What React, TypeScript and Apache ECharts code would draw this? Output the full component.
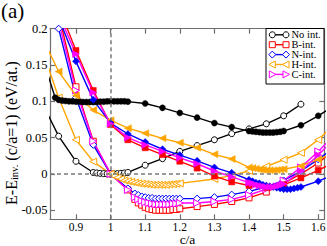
import React, { useEffect, useRef } from "react";
import * as echarts from "echarts";

// ---- tick values ----
const xTicks = [0.9, 1.0, 1.1, 1.2, 1.3, 1.4, 1.5, 1.6];
const yTicks = [-0.05, 0, 0.05, 0.1, 0.15, 0.2];
const legendNames = ["No int.", "B-int.", "N-int.", "H-int.", "C-int."];

// ---- data: [c/a, E - E_inv] ----
const noIntFilled: [number, number][] = [
  [0.80, 0.165], [0.84, 0.105], [0.85, 0.102], [0.86, 0.101], [0.87, 0.1005], [0.88, 0.1], [0.89, 0.1],
  [0.90, 0.0995], [0.91, 0.0995], [0.92, 0.099], [0.93, 0.099], [0.94, 0.099], [0.95, 0.099], [0.96, 0.099],
  [0.97, 0.0995], [0.98, 0.0995], [0.99, 0.1], [1.00, 0.1], [1.01, 0.1], [1.02, 0.1], [1.03, 0.1], [1.04, 0.1],
  [1.05, 0.0995], [1.10, 0.097], [1.15, 0.091], [1.20, 0.084], [1.25, 0.0775], [1.30, 0.07], [1.35, 0.0645],
  [1.40, 0.059], [1.41, 0.0585], [1.42, 0.058], [1.43, 0.0575], [1.44, 0.057], [1.45, 0.057], [1.46, 0.057],
  [1.47, 0.057], [1.48, 0.0575], [1.49, 0.058], [1.50, 0.059], [1.55, 0.067], [1.60, 0.080], [1.65, 0.095],
];
const noIntOpen: [number, number][] = [
  [0.80, 0.10], [0.85, 0.052], [0.90, 0.0174], [0.95, 0.002], [0.96, 0.0013], [0.97, 0.0008], [0.98, 0.0004],
  [0.99, 0.0001], [1.00, 0], [1.01, 0.0001], [1.02, 0.0004], [1.03, 0.0008], [1.04, 0.0013], [1.05, 0.002],
  [1.10, 0.012], [1.15, 0.021], [1.20, 0.031], [1.25, 0.039], [1.30, 0.047], [1.35, 0.0555], [1.40, 0.062],
  [1.45, 0.069], [1.50, 0.080], [1.55, 0.096],
];
const bFilled: [number, number][] = [
  [0.85, 0.23], [0.90, 0.17], [0.95, 0.115], [1.00, 0.068], [1.05, 0.047], [1.10, 0.036], [1.15, 0.0266],
  [1.20, 0.0174], [1.25, 0.008], [1.30, -0.003], [1.35, -0.011], [1.40, -0.016], [1.45, -0.019], [1.50, -0.015],
  [1.55, -0.0055], [1.60, 0.005], [1.65, 0.017],
];
const bOpen: [number, number][] = [
  [0.85, 0.22], [0.90, 0.12], [0.95, 0.045], [1.00, 0], [1.05, -0.022], [1.07, -0.035], [1.08, -0.040],
  [1.09, -0.043], [1.10, -0.046], [1.11, -0.048], [1.12, -0.049], [1.13, -0.050], [1.14, -0.050], [1.15, -0.050],
  [1.16, -0.050], [1.17, -0.050], [1.18, -0.049], [1.19, -0.049], [1.20, -0.048], [1.25, -0.045], [1.30, -0.042],
  [1.35, -0.038], [1.40, -0.033], [1.45, -0.025], [1.50, -0.013], [1.55, 0.0], [1.60, 0.015], [1.65, 0.035],
];
const nFilled: [number, number][] = [
  [0.85, 0.215], [0.90, 0.155], [0.95, 0.102], [1.00, 0.07], [1.05, 0.055], [1.10, 0.044], [1.15, 0.034],
  [1.20, 0.026], [1.25, 0.018], [1.30, 0.009], [1.35, 0.0015], [1.40, -0.008], [1.41, -0.010], [1.42, -0.012],
  [1.43, -0.013], [1.44, -0.015], [1.45, -0.016], [1.46, -0.017], [1.47, -0.018], [1.48, -0.019], [1.49, -0.020],
  [1.50, -0.021], [1.51, -0.021], [1.52, -0.021], [1.53, -0.020], [1.54, -0.019], [1.55, -0.018], [1.60, -0.010],
  [1.65, 0.0],
];
const nOpen: [number, number][] = [
  [0.85, 0.2], [0.90, 0.105], [0.95, 0.04], [1.00, 0], [1.05, -0.02], [1.07, -0.027], [1.08, -0.029],
  [1.09, -0.031], [1.10, -0.032], [1.11, -0.033], [1.12, -0.033], [1.13, -0.034], [1.14, -0.034], [1.15, -0.034],
  [1.16, -0.034], [1.17, -0.034], [1.18, -0.034], [1.19, -0.034], [1.20, -0.034], [1.25, -0.034], [1.30, -0.032],
  [1.35, -0.0285], [1.40, -0.024], [1.45, -0.018], [1.50, -0.009], [1.55, 0.004], [1.60, 0.02], [1.65, 0.038],
];
const hFilled: [number, number][] = [
  [0.80, 0.19], [0.85, 0.141], [0.90, 0.108], [0.95, 0.088], [1.00, 0.074], [1.05, 0.063], [1.10, 0.056],
  [1.15, 0.049], [1.20, 0.043], [1.25, 0.036], [1.30, 0.027], [1.35, 0.0205], [1.40, 0.009], [1.41, 0.008],
  [1.42, 0.007], [1.43, 0.006], [1.44, 0.0055], [1.45, 0.005], [1.46, 0.005], [1.47, 0.005], [1.48, 0.0055],
  [1.49, 0.006], [1.50, 0.0065], [1.55, 0.011], [1.60, 0.02], [1.65, 0.03],
];
const hOpen: [number, number][] = [
  [0.80, 0.175], [0.85, 0.105], [0.90, 0.047], [0.95, 0.017], [1.00, 0], [1.01, -0.003], [1.02, -0.005],
  [1.03, -0.007], [1.04, -0.009], [1.05, -0.010], [1.06, -0.011], [1.07, -0.012], [1.08, -0.013], [1.09, -0.0135],
  [1.10, -0.014], [1.11, -0.0145], [1.12, -0.015], [1.13, -0.015], [1.14, -0.015], [1.15, -0.015], [1.16, -0.015],
  [1.17, -0.0145], [1.18, -0.014], [1.19, -0.0135], [1.20, -0.013], [1.30, -0.007], [1.35, -0.002], [1.40, 0.004],
  [1.45, 0.0105], [1.50, 0.0195], [1.55, 0.029], [1.60, 0.047], [1.65, 0.07],
];
const cFilled: [number, number][] = [
  [0.85, 0.22], [0.90, 0.165], [0.95, 0.112], [1.00, 0.069], [1.05, 0.050], [1.10, 0.040], [1.15, 0.031],
  [1.20, 0.022], [1.25, 0.014], [1.30, 0.004], [1.35, -0.004], [1.40, -0.012], [1.41, -0.013], [1.42, -0.015],
  [1.43, -0.016], [1.44, -0.017], [1.45, -0.018], [1.46, -0.018], [1.47, -0.018], [1.48, -0.017], [1.49, -0.016],
  [1.50, -0.014], [1.55, 0.004], [1.60, 0.026], [1.65, 0.05],
];
const cOpen: [number, number][] = [
  [0.85, 0.21], [0.90, 0.115], [0.95, 0.045], [1.00, 0], [1.05, -0.022], [1.07, -0.032], [1.08, -0.035],
  [1.09, -0.037], [1.10, -0.039], [1.11, -0.040], [1.12, -0.041], [1.13, -0.042], [1.14, -0.042], [1.15, -0.042],
  [1.16, -0.042], [1.17, -0.042], [1.18, -0.041], [1.19, -0.041], [1.20, -0.040], [1.25, -0.040], [1.30, -0.038],
  [1.35, -0.035], [1.40, -0.029], [1.45, -0.021], [1.50, -0.009], [1.55, 0.009], [1.60, 0.031], [1.65, 0.055],
];

const FONT = "Liberation Serif";
const BLACK = "#000000";
const RED = "#ff0000";
const BLUE = "#0000ff";
const ORANGE = "#ffa500";
const MAGENTA = "#ff00ff";
const FRAME = "#6e6e6e";

type Kind = { color: string; symbol: string; rotate: number; size: number };
const kinds: Kind[] = [
  { color: BLACK, symbol: "circle", rotate: 0, size: 6 },
  { color: RED, symbol: "rect", rotate: 0, size: 6 },
  { color: BLUE, symbol: "diamond", rotate: 0, size: 7 },
  { color: ORANGE, symbol: "triangle", rotate: 90, size: 7 },
  { color: MAGENTA, symbol: "triangle", rotate: -90, size: 7 },
];

function makeSeries(name: string, data: [number, number][], k: Kind, filled: boolean, extra: any = {}) {
  return {
    name,
    type: "line",
    data,
    clip: true,
    symbol: k.symbol,
    symbolSize: k.size,
    symbolRotate: k.rotate,
    showAllSymbol: true,
    lineStyle: { color: k.color, width: 1.4 },
    itemStyle: filled
      ? { color: k.color, borderColor: k.color, borderWidth: 0.5 }
      : { color: "#ffffff", borderColor: k.color, borderWidth: 1 },
    emphasis: { disabled: true },
    z: filled ? 3 : 2,
    ...extra,
  };
}

function legendGraphics() {
  const els: any[] = [];
  const x0 = 266, y0 = 28.5, w = 58, h = 55.5;
  els.push({ type: "rect", shape: { x: x0, y: y0, width: w, height: h }, style: { fill: "#fff", stroke: "#000", lineWidth: 1 }, z: 100 });
  legendNames.forEach((nm, i) => {
    const k = kinds[i];
    const cy = 34.8 + i * 9.9;
    const xa = 272.3, xb = 286;
    els.push({ type: "line", shape: { x1: xa, y1: cy, x2: xb, y2: cy }, style: { stroke: k.color, lineWidth: 1.4 }, z: 101 });
    [xa, xb].forEach((cx) => {
      const st = { fill: "#fff", stroke: k.color, lineWidth: 1 };
      const r = 3;
      if (i === 0) els.push({ type: "circle", shape: { cx, cy, r }, style: st, z: 102 });
      else if (i === 1) els.push({ type: "rect", shape: { x: cx - r, y: cy - r, width: 2 * r, height: 2 * r }, style: st, z: 102 });
      else if (i === 2) els.push({ type: "polygon", shape: { points: [[cx, cy - 3.5], [cx + 3.5, cy], [cx, cy + 3.5], [cx - 3.5, cy]] }, style: st, z: 102 });
      else if (i === 3) els.push({ type: "polygon", shape: { points: [[cx - 3.5, cy], [cx + 3, cy - 3.5], [cx + 3, cy + 3.5]] }, style: st, z: 102 });
      else els.push({ type: "polygon", shape: { points: [[cx + 3.5, cy], [cx - 3, cy - 3.5], [cx - 3, cy + 3.5]] }, style: st, z: 102 });
    });
    els.push({
      type: "text", x: 291.5, y: cy,
      style: { text: nm, fill: "#000", fontFamily: FONT, fontSize: 10.5, align: "left", verticalAlign: "middle" },
      z: 102,
    });
  });
  // y-axis title (rotated, with subscript)
  els.push({
    type: "text",
    x: 11,
    y: 133,
    rotation: Math.PI / 2,
    style: {
      text: "E-E{sub|inv.} (c/a=1) (eV/at.)",
      fill: "#000",
      fontFamily: FONT,
      fontSize: 16,
      lineHeight: 18,
      align: "center",
      verticalAlign: "middle",
      rich: { sub: { fontFamily: FONT, fontSize: 10.5, lineHeight: 11, verticalAlign: "bottom", fill: "#000" } },
    },
    z: 50,
  });
  // x-axis title
  els.push({
    type: "text",
    x: 187.5,
    y: 239.2,
    style: { text: "c/a", fill: "#000", fontFamily: FONT, fontSize: 13.5, lineHeight: 13.5, align: "center", verticalAlign: "middle" },
    z: 50,
  });
  return els;
}

export default function App() {
  const ref = useRef<HTMLDivElement>(null);
  useEffect(() => {
    document.body.style.margin = "0";
    if (!ref.current) return;
    const chart = echarts.init(ref.current, undefined, { renderer: "svg" });
    const fmt = (v: number) => String(Number(Number(v).toFixed(3)));
    const xBase = {
      type: "value",
      min: 0.825,
      max: 1.6175,
      axisLine: { show: true, onZero: false, lineStyle: { color: FRAME, width: 1.2 } },
      axisTick: { show: true, inside: true, length: 5, customValues: xTicks, lineStyle: { color: FRAME, width: 1.2 } },
      splitLine: { show: false },
    };
    const yBase = {
      type: "value",
      min: -0.0625,
      max: 0.2,
      axisLine: { show: true, onZero: false, lineStyle: { color: FRAME, width: 1.2 } },
      axisTick: { show: true, inside: true, length: 5, customValues: yTicks, lineStyle: { color: FRAME, width: 1.2 } },
      splitLine: { show: false },
    };
    const option: any = {
      animation: false,
      backgroundColor: "#ffffff",
      textStyle: { fontFamily: FONT },
      title: {
        text: "(a)",
        left: 1,
        top: 0,
        padding: 0,
        textStyle: { fontFamily: FONT, fontSize: 21, fontWeight: "normal", color: "#000" },
      },
      grid: { left: 50, right: 2.7, top: 28.7, bottom: 26.7, containLabel: false, outerBoundsMode: "none" },
      xAxis: [
        {
          ...xBase,
          position: "bottom",
          axisLabel: { show: true, customValues: xTicks, margin: 1.5, formatter: fmt, fontFamily: FONT, fontSize: 11.5, color: "#000" },
        },
        { ...xBase, position: "top", axisLabel: { show: false } },
      ],
      yAxis: [
        {
          ...yBase,
          position: "left",
          axisLabel: { show: true, customValues: yTicks, margin: 2.5, formatter: fmt, fontFamily: FONT, fontSize: 12.5, color: "#000" },
        },
        { ...yBase, position: "right", axisLabel: { show: false } },
      ],
      series: [
        makeSeries("No int. (open)", noIntOpen, kinds[0], false, {
          markLine: {
            silent: true,
            symbol: ["none", "none"],
            label: { show: false },
            lineStyle: { color: "#7a7a7a", type: [4, 3], width: 1.5 },
            data: [{ xAxis: 1 }, { yAxis: 0 }],
          },
        }),
        makeSeries("No int.", noIntFilled, kinds[0], true),
        makeSeries("B-int. (open)", bOpen, kinds[1], false),
        makeSeries("N-int. (open)", nOpen, kinds[2], false),
        makeSeries("C-int. (open)", cOpen, kinds[4], false),
        makeSeries("H-int. (open)", hOpen, kinds[3], false),
        makeSeries("H-int.", hFilled, kinds[3], true),
        makeSeries("B-int.", bFilled, kinds[1], true),
        makeSeries("N-int.", nFilled, kinds[2], true),
        makeSeries("C-int.", cFilled, kinds[4], true),
      ],
      graphic: legendGraphics(),
    };
    chart.setOption(option);
    return () => chart.dispose();
  }, []);
  return <div ref={ref} style={{ width: 327, height: 246, position: "absolute", left: 0, top: 0 }} />;
}
